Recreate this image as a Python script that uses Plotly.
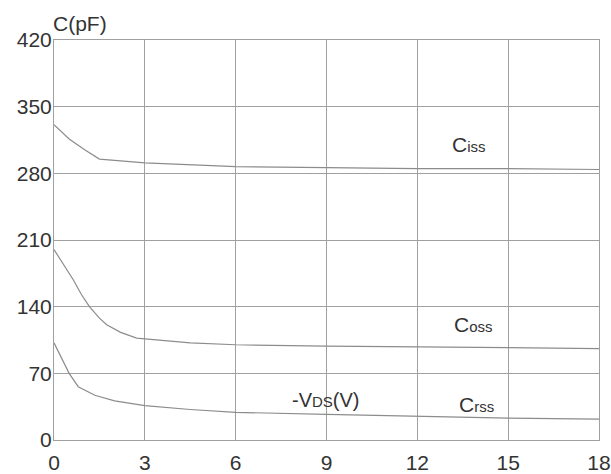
import plotly.graph_objects as go

# Data
ciss_x = [0, 0.25, 0.5, 1.0, 1.5, 3, 6, 9, 12, 15, 18]
ciss_y = [331, 323, 316, 305, 295, 291, 287, 286, 285, 285, 284]

coss_x = [0, 0.3, 0.64, 0.9, 1.17, 1.5, 1.74, 2.2, 2.73, 4.5, 6, 9, 12, 15, 18]
coss_y = [200, 185, 168, 153, 140, 128, 121, 113, 107, 102, 100, 98.5, 98, 97, 96]

crss_x = [0, 0.25, 0.5, 0.8, 1.35, 2, 3, 4.5, 6, 9, 12, 15, 18]
crss_y = [102, 86, 70, 56, 47, 41, 36, 32, 29, 27, 25, 23, 22]

x_ticks = [0, 3, 6, 9, 12, 15, 18]
y_ticks = [0, 70, 140, 210, 280, 350, 420]

FONT = "Liberation Sans, Arial, sans-serif"
TEXT_COLOR = "#333333"
LINE_COLOR = "#8c8c8c"
GRID_COLOR = "#a0a0a0"

fig = go.Figure()
for xs, ys, name in [(ciss_x, ciss_y, "Ciss"), (coss_x, coss_y, "Coss"), (crss_x, crss_y, "Crss")]:
    fig.add_trace(go.Scatter(x=xs, y=ys, mode="lines", name=name,
                             line=dict(color=LINE_COLOR, width=1.2),
                             showlegend=False, hoverinfo="skip"))

def lbl(big, small, x, y):
    fig.add_annotation(x=x, y=y, xref="x", yref="y",
                       text=f"{big}<span style='font-size:15px'>{small}</span>",
                       showarrow=False, xanchor="center", yanchor="middle",
                       font=dict(family=FONT, size=21, color=TEXT_COLOR))

lbl("C", "iss", 13.72, 310)
lbl("C", "oss", 13.85, 121)
lbl("C", "rss", 13.94, 37)
fig.add_annotation(x=8.97, y=42, xref="x", yref="y",
                   text="-V<span style='font-size:15px'>DS</span>(V)",
                   showarrow=False, xanchor="center", yanchor="middle",
                   font=dict(family=FONT, size=20, color=TEXT_COLOR))
fig.add_annotation(x=0, y=1.0, xref="paper", yref="paper",
                   text="C(pF)", showarrow=False, xanchor="left", yanchor="bottom",
                   xshift=-3, yshift=3,
                   font=dict(family=FONT, size=21, color=TEXT_COLOR))

fig.update_xaxes(range=[0, 18], tickvals=x_ticks, ticktext=[str(v) for v in x_ticks],
                 showgrid=True, gridcolor=GRID_COLOR, gridwidth=1,
                 showline=True, linecolor=GRID_COLOR, linewidth=1, mirror=True,
                 zeroline=False, ticks="", ticklen=0, ticklabelstandoff=4,
                 tickfont=dict(family=FONT, size=21, color=TEXT_COLOR))
fig.update_yaxes(range=[0, 420], tickvals=y_ticks, ticktext=[str(v) for v in y_ticks],
                 showgrid=True, gridcolor=GRID_COLOR, gridwidth=1,
                 showline=True, linecolor=GRID_COLOR, linewidth=1, mirror=True,
                 zeroline=False, ticks="", ticklen=0, ticklabelstandoff=-3,
                 tickfont=dict(family=FONT, size=21, color=TEXT_COLOR))

fig.update_layout(width=611, height=474,
                  margin=dict(l=54, r=12, t=40, b=34, autoexpand=False),
                  plot_bgcolor="white", paper_bgcolor="white",
                  hovermode=False)

fig.write_html("out.html", config={"displayModeBar": False},
               post_script="document.body.style.margin='0';document.body.style.overflow='hidden';")
